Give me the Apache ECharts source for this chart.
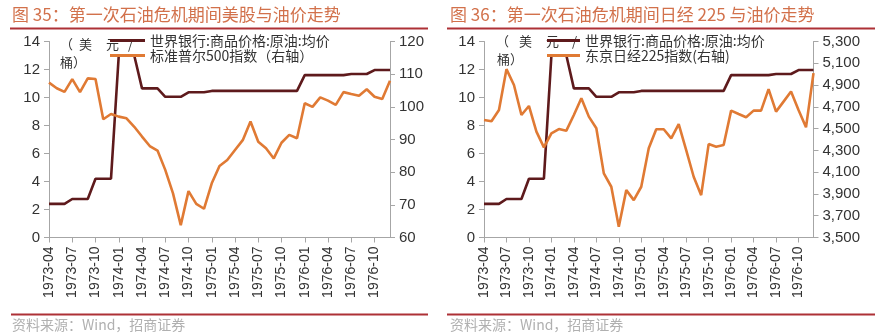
<!DOCTYPE html>
<html><head><meta charset="utf-8">
<script src="https://cdn.jsdelivr.net/npm/echarts@6/dist/echarts.min.js"></script>
<style>html,body{margin:0;padding:0;background:#fff}#c{width:879px;height:335px}</style>
</head><body><div id="c"></div>
<script>
const months = ['1973-04','1973-05','1973-06','1973-07','1973-08','1973-09','1973-10','1973-11','1973-12',
  '1974-01','1974-02','1974-03','1974-04','1974-05','1974-06','1974-07','1974-08','1974-09','1974-10','1974-11','1974-12',
  '1975-01','1975-02','1975-03','1975-04','1975-05','1975-06','1975-07','1975-08','1975-09','1975-10','1975-11','1975-12',
  '1976-01','1976-02','1976-03','1976-04','1976-05','1976-06','1976-07','1976-08','1976-09','1976-10','1976-11','1976-12'];
const oilPrice = [2.4,2.4,2.4, 2.75,2.75,2.75, 4.2,4.2,4.2, 13.0,13.0,13.0, 10.65,10.65,10.65, 10.05,10.05,10.05,
  10.37,10.37,10.37, 10.47,10.47,10.47,10.47,10.47,10.47,10.47,10.47,10.47,10.47,10.47,10.47,
  11.6,11.6,11.6,11.6,11.6,11.6, 11.68,11.68,11.68, 11.96,11.96,11.96];
const sp500 = [107.4,105.7,104.6,108.5,104.5,108.7,108.5,96.2,97.8,97.0,96.5,93.9,90.9,88.0,86.6,80.7,73.5,63.8,
  74.2,70.3,68.8,76.6,81.9,83.7,86.8,89.8,95.5,89.3,87.3,84.2,89.0,91.4,90.4,101.1,100.0,102.9,101.9,100.6,
  104.5,103.9,103.4,105.4,103.1,102.4,108.0];
const nikkei225 = [4579,4567,4671,5046,4901,4625,4708,4472,4328,4457,4496,4481,4625,4779,4610,4503,4089,3966,
  3598,3935,3843,3966,4320,4494,4494,4411,4542,4303,4058,3889,4358,4334,4349,4665,4634,4604,4665,4665,
  4862,4656,4748,4840,4671,4512,5009];
const oilTicks = [0,2,4,6,8,10,12,14];
const spTicks = [60,70,80,90,100,110,120];
const nikkeiTicks = [3500,3700,3900,4100,4300,4500,4700,4900,5100,5300];

const oilName = '世界银行:商品价格:原油:均价';
const spName = '标准普尔500指数（右轴）';
const nkName = '东京日经225指数(右轴)';

const FONT = '"Liberation Sans","Noto Sans CJK SC",sans-serif';
const CJK = '"Noto Sans CJK SC","Liberation Sans",sans-serif';
const AX = '#a6a6a6', LBL = '#333333';
const OIL = '#5e1a1c', ORG = '#e07a34';

function xAxis(g){
  return {type:'category', gridIndex:g, data:months, boundaryGap:false,
    axisLine:{show:true,lineStyle:{color:AX,width:1}},
    axisTick:{show:true,interval:2,length:5,lineStyle:{color:AX}},
    axisLabel:{interval:2,rotate:90,fontSize:14,margin:9,color:LBL,fontFamily:FONT},
    splitLine:{show:false}};
}
function yAxis(g,pos,ticks,extra){
  return Object.assign({type:'value', gridIndex:g, position:pos, min:ticks[0], max:ticks[ticks.length-1],
    axisLine:{show:true,lineStyle:{color:AX,width:1}},
    axisTick:{show:true,length:5,inside:false,lineStyle:{color:AX}},
    axisLabel:{fontSize:15,margin:9,color:LBL,fontFamily:FONT},
    splitLine:{show:false}}, extra);
}
function txt(x,y,s,size,color,extra){
  return {type:'text', left:x, top:y, style:Object.assign({text:s, fill:color, font:size+'px '+CJK}, extra||{})};
}
function hline(x1,x2,y,color,w){
  return {type:'line', shape:{x1:x1,y1:y,x2:x2,y2:y}, style:{stroke:color,lineWidth:w}};
}

const chart = echarts.init(document.getElementById('c'), null, {renderer:'canvas'});
chart.setOption({
  animation:false,
  backgroundColor:'#fff',
  grid:[
    {left:49, right:489, top:41.5, bottom:97.5, outerBoundsMode:'none', containLabel:false},
    {left:484, right:65.5, top:41.5, bottom:97.5, outerBoundsMode:'none', containLabel:false}
  ],
  xAxis:[xAxis(0), xAxis(1)],
  yAxis:[
    yAxis(0,'left',oilTicks,{interval:2}),
    yAxis(0,'right',spTicks,{interval:10}),
    yAxis(1,'left',oilTicks,{interval:2}),
    (function(){const a=yAxis(1,'right',nikkeiTicks,{});
      a.axisLabel.customValues=nikkeiTicks;
      a.axisLabel.formatter=v=>Number(v).toLocaleString('en-US');
      a.axisTick.customValues=nikkeiTicks; return a;})()
  ],
  legend:[
    {data:[oilName,spName], orient:'vertical', left:110, top:33.5, padding:0, itemWidth:35, itemHeight:3, itemGap:1,
     icon:'rect', textStyle:{fontSize:14,color:LBL,fontFamily:CJK}},
    {data:[oilName,nkName], orient:'vertical', left:547, top:33.5, padding:0, itemWidth:33, itemHeight:3, itemGap:1,
     icon:'rect', textStyle:{fontSize:14,color:LBL,fontFamily:CJK}}
  ],
  series:[
    {name:oilName, type:'line', xAxisIndex:0, yAxisIndex:0, data:oilPrice, symbol:'none', lineStyle:{color:OIL,width:2.6}, itemStyle:{color:OIL}},
    {name:spName, type:'line', xAxisIndex:0, yAxisIndex:1, data:sp500, symbol:'none', lineStyle:{color:ORG,width:2.6}, itemStyle:{color:ORG}},
    {name:oilName, type:'line', xAxisIndex:1, yAxisIndex:2, data:oilPrice, symbol:'none', lineStyle:{color:OIL,width:2.6}, itemStyle:{color:OIL}},
    {name:nkName, type:'line', xAxisIndex:1, yAxisIndex:3, data:nikkei225, symbol:'none', lineStyle:{color:ORG,width:2.6}, itemStyle:{color:ORG}}
  ],
  graphic:[
    txt(12,6,'图 35：第一次石油危机期间美股与油价走势',17,'#d2714b'),
    txt(450,6,'图 36：第一次石油危机期间日经 225 与油价走势',17,'#d2714b'),
    hline(10,428,28.5,'#ad3136',2),
    hline(447,875,28.5,'#ad3136',2),
    hline(11,428,314.5,'#ad3136',2),
    hline(447,875,314.5,'#ad3136',2),
    txt(12,318,'资料来源：Wind，招商证券',14,'#b0b0b0'),
    txt(450,318,'资料来源：Wind，招商证券',14,'#b0b0b0'),
    txt(60,38,'（',13,LBL), txt(79,38,'美',13,LBL), txt(106,38,'元',13,LBL), txt(128,38,'/',13,LBL),
    txt(60,56,'桶）',13,LBL),
    txt(496,35,'（',13,LBL), txt(519,35,'美',13,LBL), txt(546,35,'元',13,LBL), txt(572,35,'/',13,LBL),
    txt(497,53,'桶）',13,LBL)
  ]
});
</script>
</body></html>
